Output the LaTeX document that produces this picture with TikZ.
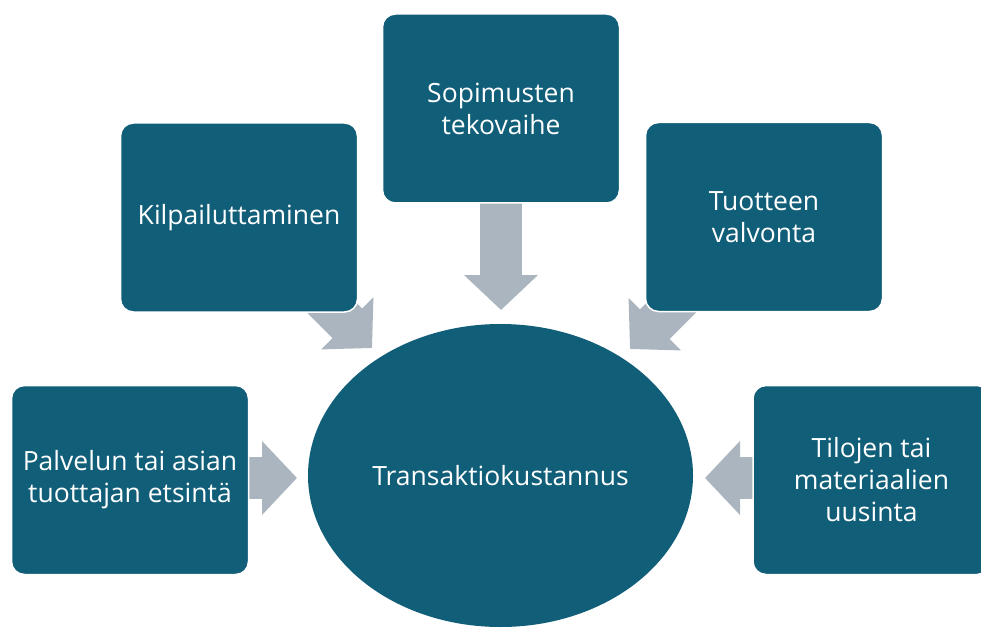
\documentclass[tikz,border=0pt]{standalone}
\usepackage{fontspec}
\setmainfont{Open Sans}
\usepackage{xcolor}
\usetikzlibrary{arrows.meta,shapes.geometric}
\definecolor{boxblue}{RGB}{17,94,121}
\definecolor{arrowgrey}{RGB}{170,181,191}

\begin{document}
\begin{tikzpicture}[x=1pt,y=-1pt]
\tikzstyle{phase}=[rectangle, rounded corners=13pt, fill=boxblue, draw=white, line width=1.5pt,
  text=white, align=center, inner sep=0pt, minimum width=237pt, minimum height=189pt,
  font=\fontsize{26.5}{32}\selectfont]
\tikzstyle{blockarrow}=[arrowgrey, line width=42pt, -{Triangle[width=72pt,length=35pt]}]
\useasboundingbox (0,0) rectangle (981,628);
% arrow tips and tails
\coordinate (tipT) at (501,310);
\coordinate (tailT) at (501,190);
\coordinate (tipL) at (297,478);
\coordinate (tailL) at (235,478);
\coordinate (tipR) at (705,478);
\coordinate (tailR) at (765,478);
\coordinate (tipUL) at (372,348);
\coordinate (tailUL) at (310,286);
\coordinate (tipUR) at (630,349);
\coordinate (tailUR) at (692,287);
\draw [blockarrow] (tailT) -- (tipT);
\draw [blockarrow] (tailL) -- (tipL);
\draw [blockarrow] (tailR) -- (tipR);
\draw [blockarrow] (tailUL) -- (tipUL);
\draw [blockarrow] (tailUR) -- (tipUR);
% center
\node (cost) [ellipse, fill=boxblue, text=white, inner sep=0pt, minimum width=385pt,
  minimum height=303pt, font=\fontsize{26.5}{32}\selectfont] at (500.5,475.5) {Transaktiokustannus};
% phases
\node (contract) [phase] at (501,108.5) {Sopimusten\\tekovaihe};
\node (tender) [phase] at (239,217.5) {Kilpailuttaminen};
\node (monitor) [phase] at (764,217) {Tuotteen\\valvonta};
\node (search) [phase] at (130,480) {Palvelun tai asian\\tuottajan etsintä};
\node (renew) [phase] at (871.5,480) {Tilojen tai\\materiaalien\\uusinta};
\end{tikzpicture}
\end{document}
